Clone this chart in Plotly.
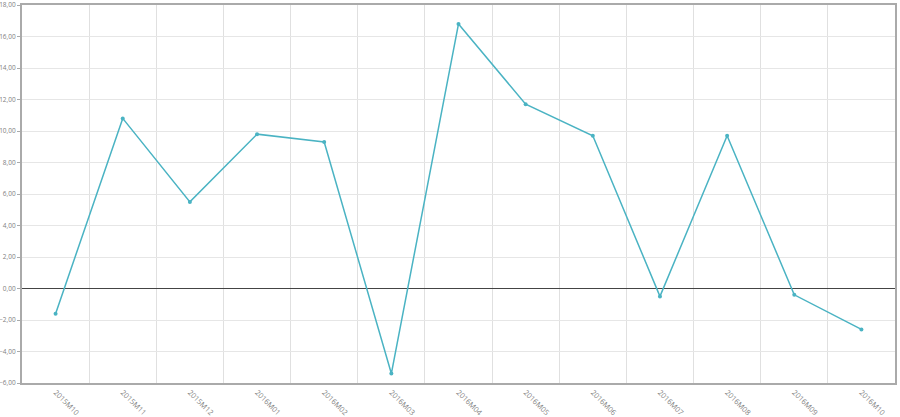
import plotly.graph_objects as go

categories = ["2015M10", "2015M11", "2015M12", "2016M01", "2016M02", "2016M03",
              "2016M04", "2016M05", "2016M06", "2016M07", "2016M08", "2016M09", "2016M10"]
values = [-1.6, 10.8, 5.5, 9.8, 9.3, -5.4, 16.8, 11.7, 9.7, -0.5, 9.7, -0.4, -2.6]
y_ticks = [-6, -4, -2, 0, 2, 4, 6, 8, 10, 12, 14, 16, 18]

fig = go.Figure()
fig.add_trace(go.Scatter(
    x=categories, y=values, mode="lines+markers",
    line=dict(color="#4ab3c3", width=1.5),
    marker=dict(color="#4ab3c3", size=4),
    hoverinfo="x+y",
))

fig.update_layout(
    width=900, height=417,
    margin=dict(l=22, r=5, t=5, b=34),
    paper_bgcolor="white", plot_bgcolor="white",
    separators=",.",
    showlegend=False,
    font=dict(family="Open Sans, sans-serif", size=8, color="#808080"),
)
fig.update_xaxes(
    type="category", range=[-0.5, 12.5], automargin=False,
    tickangle=45, tickson="boundaries",
    showgrid=True, gridcolor="#e0e0e0", gridwidth=1,
    showline=True, linecolor="#aaa", linewidth=2, mirror=True,
    ticks="", tickfont=dict(size=7.5, color="#808080"),
)
fig.update_yaxes(
    range=[-6, 18], tickvals=y_ticks, tickformat=".2f", automargin=False,
    ticklabeloverflow="allow",
    showgrid=True, gridcolor="#e6e6e6", gridwidth=1,
    zeroline=True, zerolinecolor="#444", zerolinewidth=1,
    showline=True, linecolor="#aaa", linewidth=2, mirror=True,
    ticks="outside", ticklen=3, tickcolor="#aaa",
    tickfont=dict(size=6.5, color="#808080"),
)

fig.write_html("out.html", config={"displayModeBar": False},
               post_script="document.body.style.margin='0';document.body.style.overflow='hidden';")
